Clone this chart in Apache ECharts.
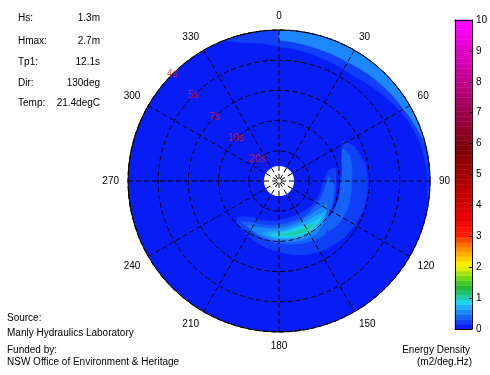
<!DOCTYPE html>
<html>
<head>
<meta charset="utf-8">
<script src="https://cdn.jsdelivr.net/npm/echarts@6/dist/echarts.min.js"></script>
<style>
html,body{margin:0;padding:0;background:#fff;}
#chart{width:490px;height:375px;}
</style>
</head>
<body>
<div id="chart"></div>
<script>
// ---------------- DATA ----------------
// summary statistics
const infoLabels = ['Hs:', 'Hmax:', 'Tp1:', 'Dir:', 'Temp:'];
const infoValues = ['1.3m', '2.7m', '12.1s', '130deg', '21.4degC'];

// direction tick labels (deg, compass) and radial frequency rings (Hz)
const dirMin = 0, dirMax = 360, dirStep = 30;
const freqMin = 0, freqMax = 0.25, freqStep = 0.05;

// period labels along the 315 deg ray
const periodLabels = ['4s', '5s', '7s', '10s', '20s'];
const periodFreqs = [0.25, 0.2, 0.15, 0.1, 0.05];
const periodAngle = 315;

// colour bar range
const cbarMin = 0, cbarMax = 10, cbarStep = 1, cbarLevels = 64;

// energy density contour regions: direction (deg), inner/outer frequency (Hz), level (m2/deg.Hz)
const baseAngles = [0, 360];
const baseInner = [0.025, 0.025];
const baseOuter = [0.25, 0.25];
const baseLevel = 0.05;

const seaBandAngles = [-22, -15, 0, 20, 36, 50, 64, 75, 85, 95, 105];
const seaBandInner = [0.250, 0.237, 0.222, 0.215, 0.213, 0.223, 0.235, 0.242, 0.245, 0.247, 0.250];
const seaBandOuter = [0.250, 0.250, 0.250, 0.250, 0.250, 0.250, 0.250, 0.250, 0.250, 0.250, 0.250];
const seaBandLevel = 0.2;

const seaPeakAngles = [0, 15, 30, 45, 60, 70, 76];
const seaPeakInner = [0.233, 0.228, 0.227, 0.232, 0.238, 0.245, 0.250];
const seaPeakOuter = [0.250, 0.250, 0.250, 0.250, 0.250, 0.250, 0.250];
const seaPeakLevel = 0.5;

const swell1Angles = [58, 65, 75, 78, 90, 110, 130, 150, 165, 180, 200, 215, 225, 229];
const swell1Inner = [0.125, 0.115, 0.107, 0.083, 0.072, 0.070, 0.067, 0.063, 0.063, 0.065, 0.070, 0.073, 0.083, 0.092];
const swell1Outer = [0.125, 0.137, 0.143, 0.145, 0.147, 0.147, 0.143, 0.135, 0.127, 0.117, 0.108, 0.102, 0.098, 0.092];
const swell1Level = 0.2;

const swellGapAngles = [76, 90, 110, 125, 132];
const swellGapInner = [0.097, 0.095, 0.098, 0.102, 0.103];
const swellGapOuter = [0.107, 0.100, 0.103, 0.103, 0.103];
const swellGapLevel = 0.05;

const swell2aAngles = [62, 70, 90, 110, 125, 135];
const swell2aInner = [0.118, 0.110, 0.102, 0.103, 0.103, 0.103];
const swell2aOuter = [0.118, 0.125, 0.120, 0.122, 0.122, 0.117];
const swell2aLevel = 0.35;

const swell2bAngles = [84, 95, 110, 125, 140, 160, 180, 200, 215, 223];
const swell2bInner = [0.083, 0.077, 0.075, 0.073, 0.072, 0.070, 0.072, 0.077, 0.083, 0.092];
const swell2bOuter = [0.083, 0.092, 0.095, 0.100, 0.117, 0.110, 0.103, 0.097, 0.093, 0.092];
const swell2bLevel = 0.35;

const swell3Angles = [115, 130, 145, 160, 180, 200, 215];
const swell3Inner = [0.087, 0.078, 0.075, 0.075, 0.077, 0.082, 0.090];
const swell3Outer = [0.087, 0.100, 0.107, 0.105, 0.100, 0.095, 0.090];
const swell3Level = 0.5;

const swell4Angles = [122, 135, 150, 165, 185, 198];
const swell4Inner = [0.092, 0.083, 0.080, 0.080, 0.083, 0.090];
const swell4Outer = [0.092, 0.098, 0.102, 0.098, 0.095, 0.090];
const swell4Level = 0.7;

const swell5Angles = [130, 145, 160, 178, 190];
const swell5Inner = [0.092, 0.087, 0.083, 0.085, 0.090];
const swell5Outer = [0.092, 0.097, 0.097, 0.093, 0.090];
const swell5Level = 0.85;

const swell6Angles = [138, 150, 165, 180];
const swell6Inner = [0.092, 0.088, 0.087, 0.088];
const swell6Outer = [0.092, 0.095, 0.093, 0.088];
const swell6Level = 1.0;

// ---------------- STYLE ----------------
const FONT = 'Liberation Sans, Arial, Helvetica, sans-serif';
const cmapStops = [
  [0, [8, 28, 245]], [0.5, [30, 140, 255]], [0.8, [30, 215, 235]], [1.0, [30, 200, 150]],
  [1.3, [30, 185, 50]], [1.7, [150, 225, 20]], [2.0, [255, 250, 0]], [2.3, [255, 190, 0]],
  [2.7, [255, 110, 0]], [3.0, [255, 30, 0]], [3.5, [235, 0, 0]], [5.8, [125, 0, 5]],
  [7.0, [155, 0, 75]], [8.5, [205, 0, 165]], [10, [255, 0, 255]]
];
function cmap(v) {
  for (let i = 0; i < cmapStops.length - 1; i++) {
    const a = cmapStops[i], b = cmapStops[i + 1];
    if (v <= b[0]) {
      const t = Math.max(0, (v - a[0]) / (b[0] - a[0]));
      const c = a[1].map((x, j) => Math.round(x + (b[1][j] - x) * t));
      return 'rgb(' + c.join(',') + ')';
    }
  }
  return 'rgb(255,0,255)';
}
const bandColors = [];
for (let k = 0; k < cbarLevels; k++) bandColors.push(cmap(k * (cbarMax - cbarMin) / (cbarLevels - 1)));
function levelColor(v) {
  const step = (cbarMax - cbarMin) / cbarLevels;
  const k = Math.min(cbarLevels - 1, Math.max(0, Math.floor((v - cbarMin) / step)));
  return bandColors[k];
}

const contours = [
  {a: baseAngles, fi: baseInner, fo: baseOuter, v: baseLevel, full: true},
  {a: seaBandAngles, fi: seaBandInner, fo: seaBandOuter, v: seaBandLevel},
  {a: seaPeakAngles, fi: seaPeakInner, fo: seaPeakOuter, v: seaPeakLevel},
  {a: swell1Angles, fi: swell1Inner, fo: swell1Outer, v: swell1Level},
  {a: swellGapAngles, fi: swellGapInner, fo: swellGapOuter, v: swellGapLevel},
  {a: swell2aAngles, fi: swell2aInner, fo: swell2aOuter, v: swell2aLevel},
  {a: swell2bAngles, fi: swell2bInner, fo: swell2bOuter, v: swell2bLevel},
  {a: swell3Angles, fi: swell3Inner, fo: swell3Outer, v: swell3Level},
  {a: swell4Angles, fi: swell4Inner, fo: swell4Outer, v: swell4Level},
  {a: swell5Angles, fi: swell5Inner, fo: swell5Outer, v: swell5Level},
  {a: swell6Angles, fi: swell6Inner, fo: swell6Outer, v: swell6Level}
];

function edgePoints(api, angs, fr, reverse) {
  const pts = [];
  const n = angs.length;
  const idx = [];
  for (let i = 0; i < n; i++) idx.push(reverse ? n - 1 - i : i);
  for (let j = 0; j < n - 1; j++) {
    const i0 = idx[j], i1 = idx[j + 1];
    const steps = Math.max(1, Math.ceil(Math.abs(angs[i1] - angs[i0]) / 1.5));
    for (let s = 0; s < steps; s++) {
      const t = s / steps;
      pts.push(api.coord([fr[i0] + (fr[i1] - fr[i0]) * t, angs[i0] + (angs[i1] - angs[i0]) * t]));
    }
  }
  const last = idx[n - 1];
  pts.push(api.coord([fr[last], angs[last]]));
  return pts;
}

function renderContour(params, api) {
  const c = contours[params.dataIndex];
  const color = levelColor(c.v);
  if (c.full) {
    const o = api.coord([0, 0]);
    const p0 = api.coord([c.fi[0], 0]);
    const p1 = api.coord([c.fo[0], 0]);
    return {
      type: 'sector',
      shape: {cx: o[0], cy: o[1], r0: Math.hypot(p0[0] - o[0], p0[1] - o[1]),
              r: Math.hypot(p1[0] - o[0], p1[1] - o[1]), startAngle: 0, endAngle: Math.PI * 2},
      style: {fill: color}
    };
  }
  const pts = edgePoints(api, c.a, c.fo, false).concat(edgePoints(api, c.a, c.fi, true));
  return {type: 'polygon', shape: {points: pts}, style: {fill: color, stroke: color, lineWidth: 0.4}};
}

function renderBand(params, api) {
  const k = params.dataIndex;
  const step = (cbarMax - cbarMin) / cbarLevels;
  const p1 = api.coord([0, cbarMin + k * step]);
  const p2 = api.coord([1, cbarMin + (k + 1) * step]);
  return {
    type: 'rect',
    shape: {x: p1[0], y: p2[1], width: p2[0] - p1[0], height: p1[1] - p2[1]},
    style: {fill: bandColors[k], stroke: bandColors[k], lineWidth: 0.5}
  };
}

const dashed = {color: '#000', type: [5, 3], width: 1};

const graphics = [];
infoLabels.forEach((t, i) => {
  const y = [18.5, 41, 62, 83.5, 103.5][i];
  graphics.push({type: 'text', x: 18, y: y, style: {text: t, font: '10px ' + FONT, fill: '#000', textAlign: 'left', textVerticalAlign: 'middle'}});
  graphics.push({type: 'text', x: 100, y: y, style: {text: infoValues[i], font: '10px ' + FONT, fill: '#000', textAlign: 'right', textVerticalAlign: 'middle'}});
});
[['Source:', 318], ['Manly Hydraulics Laboratory', 333], ['Funded by:', 350.5], ['NSW Office of Environment & Heritage', 362]].forEach(d => {
  graphics.push({type: 'text', x: 7, y: d[1], style: {text: d[0], font: '10px ' + FONT, fill: '#000', textAlign: 'left', textVerticalAlign: 'middle'}});
});
[['Energy Density', 350.5, 470], ['(m2/deg.Hz)', 362, 472]].forEach(d => {
  graphics.push({type: 'text', x: d[2], y: d[1], style: {text: d[0], font: '10px ' + FONT, fill: '#000', textAlign: 'right', textVerticalAlign: 'middle'}});
});

const chart = echarts.init(document.getElementById('chart'), null, {renderer: 'canvas'});
chart.setOption({
  animation: false,
  backgroundColor: '#fff',
  textStyle: {fontFamily: FONT},
  polar: {center: [279, 181], radius: [0, 151]},
  angleAxis: {
    type: 'value', min: dirMin, max: dirMax, interval: dirStep, startAngle: 90, clockwise: true, z: 10,
    axisLine: {show: true, lineStyle: {color: '#000', width: 1}},
    axisTick: {show: false},
    axisLabel: {show: true, margin: 9, color: '#000', fontSize: 10, fontFamily: FONT,
      formatter: v => (v >= dirMax ? '' : String(v))},
    splitLine: {show: true, lineStyle: dashed}
  },
  radiusAxis: {
    type: 'value', min: freqMin, max: freqMax, interval: freqStep, z: 10,
    axisLine: {show: false}, axisTick: {show: false}, axisLabel: {show: false},
    splitLine: {show: true, lineStyle: dashed}
  },
  grid: {left: 455, top: 20, width: 18, height: 309},
  xAxis: [
    {type: 'value', min: 0, max: 1, position: 'bottom', z: 10, axisLine: {show: true, onZero: false, lineStyle: {color: '#000'}},
     axisTick: {show: false}, axisLabel: {show: false}, splitLine: {show: false}},
    {type: 'value', min: 0, max: 1, position: 'top', z: 10, axisLine: {show: true, onZero: false, lineStyle: {color: '#000'}},
     axisTick: {show: false}, axisLabel: {show: false}, splitLine: {show: false}}
  ],
  yAxis: [
    {type: 'value', min: cbarMin, max: cbarMax, interval: cbarStep, position: 'right', z: 10,
     axisLine: {show: true, onZero: false, lineStyle: {color: '#000'}},
     axisTick: {show: true, inside: true, length: 3, lineStyle: {color: '#000'}},
     axisLabel: {show: true, margin: 4, color: '#000', fontSize: 10, fontFamily: FONT},
     splitLine: {show: false}},
    {type: 'value', min: cbarMin, max: cbarMax, interval: cbarStep, position: 'left', z: 10,
     axisLine: {show: true, onZero: false, lineStyle: {color: '#000'}},
     axisTick: {show: false}, axisLabel: {show: false}, splitLine: {show: false}}
  ],
  graphic: graphics,
  series: [
    {
      type: 'custom', coordinateSystem: 'polar', silent: true, z: 2,
      data: contours.map((c, i) => [c.fi[0], c.a[0], i]),
      renderItem: renderContour
    },
    {
      type: 'scatter', coordinateSystem: 'polar', silent: true, z: 20,
      symbolSize: 1, itemStyle: {color: 'rgba(0,0,0,0)'},
      data: periodFreqs.map((f, i) => [f, periodAngle, periodLabels[i]]),
      label: {show: true, position: 'inside', formatter: p => p.data[2], color: '#ff1a1a', fontSize: 10, fontFamily: FONT}
    },
    {
      type: 'custom', coordinateSystem: 'cartesian2d', xAxisIndex: 0, yAxisIndex: 0, silent: true, z: 2,
      data: bandColors.map((c, k) => [0.5, cbarMin + (k + 0.5) * (cbarMax - cbarMin) / cbarLevels]),
      renderItem: renderBand
    }
  ]
});
</script>
</body>
</html>
